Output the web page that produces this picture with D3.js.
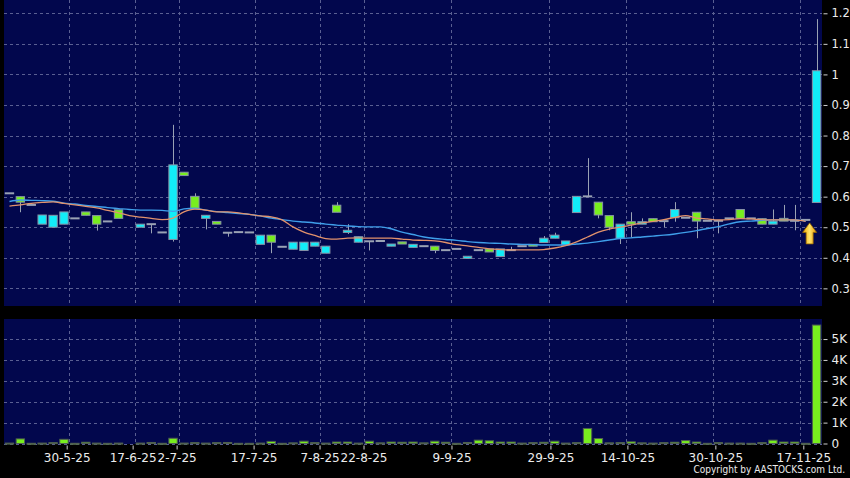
<!DOCTYPE html>
<html><head><meta charset="utf-8">
<script src="https://cdn.jsdelivr.net/npm/d3@7"></script>
<style>html,body{margin:0;padding:0;background:#000;}svg{display:block}</style>
</head><body>
<script>
// ---- data ----
const opens = [0.611,0.600,0.573,0.510,0.500,0.510,0.529,0.550,0.538,0.519,0.557,null,0.500,0.510,0.483,0.460,0.680,0.601,0.529,0.519,0.482,0.484,0.483,0.444,0.474,0.436,0.428,0.424,0.438,0.415,0.572,0.483,0.451,0.454,0.455,0.438,0.452,0.434,0.438,0.438,0.425,0.429,0.398,0.425,0.429,0.404,0.425,0.438,0.444,0.450,0.464,0.442,0.548,0.601,0.582,0.538,0.464,0.518,0.510,0.528,0.520,0.531,0.531,0.549,0.521,0.521,0.529,0.558,0.529,0.528,0.510,0.529,0.521,0.524,0.581];
const highs = [0.611,0.600,0.573,0.540,0.539,0.550,0.529,0.550,0.538,0.519,0.557,null,0.510,0.510,0.483,0.835,0.680,0.611,0.539,0.519,0.482,0.484,0.483,0.474,0.474,0.436,0.451,0.451,0.451,0.438,0.582,0.510,0.469,0.454,0.455,0.445,0.452,0.444,0.438,0.438,0.425,0.429,0.405,0.425,0.429,0.429,0.436,0.438,0.444,0.471,0.482,0.455,0.601,0.726,0.582,0.538,0.510,0.549,0.529,0.528,0.520,0.582,0.531,0.549,0.521,0.521,0.529,0.558,0.529,0.528,0.558,0.573,0.573,0.524,1.181];
const lows = [0.611,0.549,0.573,0.510,0.500,0.510,0.529,0.539,0.489,0.519,0.529,null,0.500,0.480,0.483,0.453,0.669,0.560,0.493,0.510,0.469,0.484,0.483,0.444,0.415,0.436,0.428,0.424,0.438,0.415,0.549,0.478,0.451,0.424,0.455,0.438,0.445,0.434,0.438,0.415,0.425,0.429,0.398,0.425,0.419,0.404,0.425,0.438,0.438,0.450,0.464,0.442,0.548,0.601,0.529,0.490,0.445,0.466,0.510,0.518,0.500,0.518,0.531,0.464,0.521,0.480,0.529,0.529,0.529,0.510,0.510,0.520,0.490,0.524,0.581];
const closes = [0.611,0.582,0.573,0.540,0.539,0.550,0.529,0.539,0.510,0.519,0.529,null,0.510,0.510,0.483,0.704,0.669,0.560,0.539,0.510,0.482,0.484,0.483,0.474,0.451,0.436,0.451,0.451,0.451,0.438,0.549,0.490,0.469,0.454,0.455,0.445,0.445,0.444,0.438,0.424,0.425,0.429,0.405,0.425,0.419,0.429,0.425,0.438,0.438,0.464,0.474,0.455,0.601,0.601,0.540,0.500,0.510,0.510,0.518,0.518,0.520,0.558,0.531,0.520,0.521,0.521,0.529,0.529,0.529,0.510,0.520,0.520,0.521,0.524,1.012];
const volumes = [20,220,10,20,40,200,10,60,20,10,20,0,20,50,10,250,20,40,20,40,50,10,10,20,100,10,30,110,40,20,70,70,20,110,30,70,60,70,30,110,60,10,50,160,130,70,70,20,40,60,110,20,40,720,240,30,40,80,30,20,40,60,140,70,10,40,20,20,10,40,160,70,70,10,5670];
const maShort = [0.569,0.573,0.578,0.581,0.583,0.578,0.573,0.568,0.563,0.555,0.547,0.538,0.533,0.529,0.525,0.530,0.550,0.559,0.556,0.550,0.550,0.547,0.542,0.537,0.534,0.524,0.501,0.484,0.473,0.463,0.461,0.464,0.465,0.464,0.464,0.464,0.461,0.458,0.457,0.455,0.450,0.443,0.439,0.434,0.429,0.427,0.426,0.426,0.426,0.427,0.432,0.440,0.452,0.468,0.484,0.494,0.500,0.507,0.514,0.519,0.525,0.532,0.538,0.530,0.527,0.524,0.525,0.528,0.527,0.525,0.524,0.524,0.524,0.519,null];
const maLong = [0.584,0.589,0.588,0.587,0.585,0.579,0.576,0.571,0.568,0.564,0.561,0.558,0.556,0.556,0.555,0.552,0.560,0.562,0.556,0.551,0.548,0.545,0.542,0.537,0.530,0.525,0.520,0.517,0.514,0.510,0.507,0.504,0.502,0.501,0.501,0.495,0.484,0.476,0.468,0.463,0.460,0.457,0.453,0.450,0.448,0.447,0.445,0.444,0.443,0.442,0.442,0.442,0.445,0.448,0.453,0.458,0.463,0.465,0.468,0.471,0.474,0.478,0.483,0.489,0.496,0.502,0.511,0.518,0.520,0.523,0.524,0.524,0.524,0.520,null];
const tickIndex = [5,11,15,22,28,32,40,49,56,64,72];
const tickLabels = ["30-5-25","17-6-25","2-7-25","17-7-25","7-8-25","22-8-25","9-9-25","29-9-25","14-10-25","30-10-25","17-11-25"];
const priceTicks = [0.3,0.4,0.5,0.6,0.7,0.8,0.9,1.0,1.1,1.2];
const volTicks = [0,1000,2000,3000,4000,5000];

// ---- styles ----
const BG="#02074d", GRID="#5a5f92", CYAN="#12ecf8", GREEN="#78ee1e", EDGE="#8792a6", WICK="#9aa2b4";
const FONT="DejaVu Sans, Verdana, sans-serif";

const W=850,H=478;
const svg=d3.select("body").append("svg").attr("width",W).attr("height",H);
svg.append("rect").attr("width",W).attr("height",H).attr("fill","#000");

const L=4,R=822, mTop=0, mBot=306, vTop=319, vBot=444;
const n=opens.length;
const x=d3.scaleBand().domain(d3.range(n)).range([L,R]).paddingInner(0.14).paddingOuter(0.07);
const bw=x.bandwidth(), step=x.step();
const xc=i=>x(i)+bw/2;
const xTick=d3.scaleLinear().domain([0,n-1]).range([11.7,825.3]);
const y=d3.scaleLinear().domain([0.2455,1.2435]).range([305,0]);
const yv=d3.scaleLinear().domain([0,5960]).range([443.5,319]);

// panels
svg.append("rect").attr("x",L).attr("y",mTop).attr("width",R-L).attr("height",mBot-mTop).attr("fill",BG);
svg.append("rect").attr("x",L).attr("y",vTop).attr("width",R-L).attr("height",vBot-vTop).attr("fill",BG);

// grids
const g=svg.append("g").attr("stroke",GRID).attr("stroke-width",1).attr("stroke-dasharray","3,3").attr("fill","none");
g.selectAll(".hm").data(priceTicks).join("line").attr("x1",L).attr("x2",R)
  .attr("y1",d=>Math.round(y(d))+0.5).attr("y2",d=>Math.round(y(d))+0.5);
g.selectAll(".hv").data(volTicks).join("line").attr("x1",L).attr("x2",R)
  .attr("y1",d=>Math.round(yv(d))+0.5).attr("y2",d=>Math.round(yv(d))+0.5);
tickIndex.forEach(i=>{
  const gx=Math.round(xc(i)+step/2)+0.5;
  g.append("line").attr("x1",gx).attr("x2",gx).attr("y1",mTop).attr("y2",mBot);
  g.append("line").attr("x1",gx).attr("x2",gx).attr("y1",vTop).attr("y2",vBot);
});

// candles
const idx=d3.range(n).filter(i=>opens[i]!==null);
const cg=svg.append("g");
cg.selectAll(".wick").data(idx.filter(i=>highs[i]>lows[i])).join("line")
  .attr("x1",i=>Math.round(xc(i))+0.5).attr("x2",i=>Math.round(xc(i))+0.5)
  .attr("y1",i=>y(highs[i])).attr("y2",i=>y(lows[i]))
  .attr("stroke",WICK).attr("stroke-width",1);
const bodies=idx.filter(i=>opens[i]!==closes[i]);
cg.selectAll(".body").data(bodies).join("rect")
  .attr("x",i=>x(i)+0.5).attr("width",bw-1)
  .attr("y",i=>y(Math.max(opens[i],closes[i])))
  .attr("height",i=>Math.max(1,y(Math.min(opens[i],closes[i]))-y(Math.max(opens[i],closes[i]))))
  .attr("fill",i=>closes[i]>opens[i]?CYAN:GREEN)
  .attr("stroke",EDGE).attr("stroke-width",1);
cg.selectAll(".doji").data(idx.filter(i=>opens[i]===closes[i])).join("line")
  .attr("x1",i=>x(i)).attr("x2",i=>x(i)+bw)
  .attr("y1",i=>y(opens[i])).attr("y2",i=>y(opens[i]))
  .attr("stroke",WICK).attr("stroke-width",2);

// moving averages
const lineGen=arr=>d3.line().defined(i=>arr[i]!==null).x(i=>xc(i)).y(i=>y(arr[i])).curve(d3.curveMonotoneX);
svg.append("path").attr("d",lineGen(maLong)(d3.range(n))).attr("fill","none").attr("stroke","#3f9fea").attr("stroke-width",1.4);
svg.append("path").attr("d",lineGen(maShort)(d3.range(n))).attr("fill","none").attr("stroke","#e2926c").attr("stroke-width",1.3);

// arrow annotation at last complete bar
const defs=svg.append("defs");
const gr=defs.append("linearGradient").attr("id","gold").attr("x1",0).attr("x2",1).attr("y1",0).attr("y2",0);
gr.append("stop").attr("offset","0").attr("stop-color","#f0a800");
gr.append("stop").attr("offset","0.5").attr("stop-color","#ffe46a");
gr.append("stop").attr("offset","1").attr("stop-color","#e89400");
const ax=xc(n-2)+4, ay=y(closes[n-2])+3;
svg.append("path").attr("transform",`translate(${ax},${ay})`)
  .attr("d","M0,0 L7,9.5 L3.5,9.5 L3.5,21 L-3.5,21 L-3.5,9.5 L-7,9.5 Z")
  .attr("fill","url(#gold)").attr("stroke","#9a6a00").attr("stroke-width",0.8);

// volume bars
svg.append("g").selectAll("rect").data(idx.filter(i=>volumes[i]>0)).join("rect")
  .attr("x",i=>x(i)+0.5).attr("width",bw-1)
  .attr("y",i=>yv(volumes[i])).attr("height",i=>Math.max(1,yv(0)-yv(volumes[i])))
  .attr("fill",GREEN).attr("stroke","#506050").attr("stroke-width",1);

// axes
function styleAxis(sel,size){
  sel.select(".domain").remove();
  sel.selectAll(".tick line").attr("stroke","#d0d0d0");
  sel.selectAll(".tick text").attr("fill","#ececec").style("font-family",FONT).style("font-size",size+"px");
}
svg.append("g").attr("transform","translate(823.5,0)")
  .call(d3.axisRight(y).tickValues(priceTicks).tickSize(4).tickPadding(4).tickFormat(d=>String(+d.toFixed(1))))
  .call(s=>styleAxis(s,11.5));
svg.append("g").attr("transform","translate(823.5,0)")
  .call(d3.axisRight(yv).tickValues(volTicks).tickSize(4).tickPadding(4).tickFormat(d=>d===0?"0":(d/1000)+"K"))
  .call(s=>styleAxis(s,12));
svg.append("g").attr("transform","translate(0,445.5)")
  .call(d3.axisBottom(xTick).tickValues(tickIndex).tickSize(4).tickPadding(4).tickFormat((d,k)=>tickLabels[k]))
  .call(s=>styleAxis(s,12));

svg.append("text").attr("x",845).attr("y",473).attr("text-anchor","end")
  .attr("fill","#ececec").style("font-family","'DejaVu Sans Condensed', 'Liberation Sans Narrow', 'Liberation Sans', sans-serif")
  .style("font-size","10px")
  .text("Copyright by AASTOCKS.com Ltd.");
</script>
</body></html>
